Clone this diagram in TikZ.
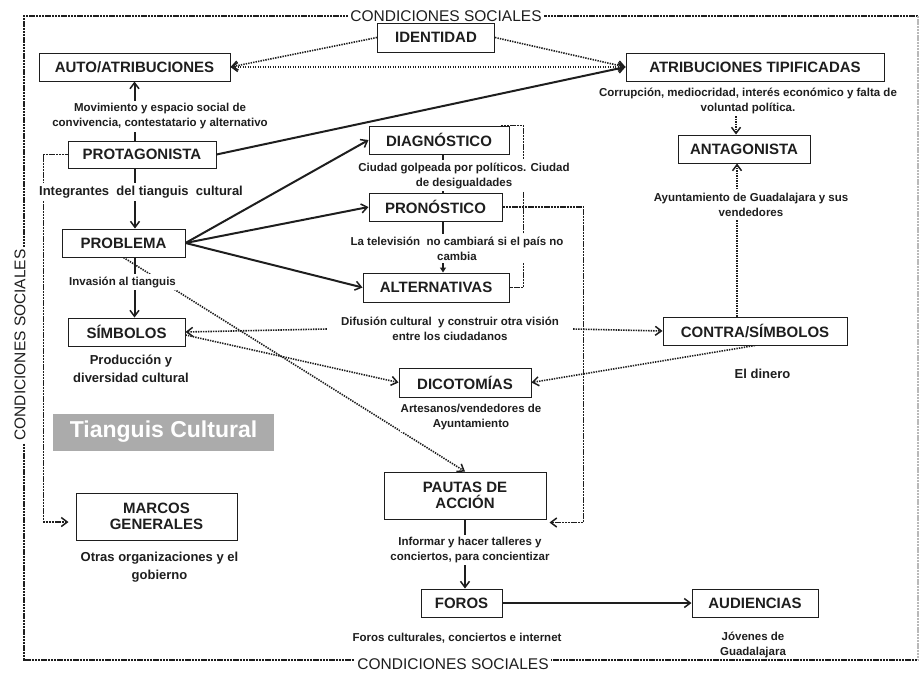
\documentclass[tikz,border=0pt]{standalone}
\usepackage{fontspec}
\setmainfont{Liberation Sans}
\usetikzlibrary{arrows.meta}
\pgfdeclarelayer{bg}
\pgfsetlayers{bg,main}
\newcommand\fTitle{\fontsize{15}{17}\selectfont\bfseries}
\newcommand\fSmall{\fontsize{11.5}{15}\selectfont\bfseries}
\newcommand\fMed{\fontsize{13}{18}\selectfont\bfseries}
\newcommand\fCond{\fontsize{15.5}{17}\selectfont}
\definecolor{ink}{HTML}{1E1E1E}
\definecolor{tgray}{HTML}{ABABAB}
\begin{document}
\begin{tikzpicture}[x=1pt,y=-1pt,
  box/.style={draw=ink, line width=1pt, fill=white, font=\fTitle, text=ink, align=center, inner sep=0pt},
  lab/.style={fill=white, font=\fSmall, text=ink, align=center, inner xsep=1pt, inner ysep=2.5pt},
  labm/.style={lab, font=\fMed},
  tip/.style={-{Straight Barb[length=6pt,width=9pt,line width=1.5pt]}},
  sarrow/.style={ink, line width=2pt, tip},
  sline/.style={ink, line width=1.6pt},
  dots/.style={ink, line width=1.6pt, dash pattern=on 1.4pt off 1.1pt},
  darrow/.style={dots, tip},
  brd/.style={ink, line width=1.1pt, dash pattern=on 2.4pt off 0.8pt},
  cond/.style={fill=white, font=\fCond, text=ink, inner xsep=2pt, inner ysep=0pt}
]
\useasboundingbox (0,0) rectangle (920,675);

% boxes
\node[box, minimum width=117, minimum height=29] (iden) at (436,37.5) {IDENTIDAD};
\node[box, minimum width=191, minimum height=28] (auto) at (134.5,67) {AUTO/ATRIBUCIONES};
\node[box, minimum width=258, minimum height=28] (tipi) at (755,67) {ATRIBUCIONES TIPIFICADAS};
\node[box, minimum width=132, minimum height=28] (ant) at (744,149) {ANTAGONISTA};
\node[box, minimum width=148, minimum height=27] (prot) at (142,154.5) {PROTAGONISTA};
\node[box, minimum width=140, minimum height=28] (diag) at (439,140) {DIAGNÓSTICO};
\node[box, minimum width=133, minimum height=28] (pron) at (435.5,207) {PRONÓSTICO};
\node[box, minimum width=146, minimum height=29] (alt) at (436,287.5) {ALTERNATIVAS};
\node[box, minimum width=123, minimum height=28] (prob) at (123.5,243) {PROBLEMA};
\node[box, minimum width=117, minimum height=28] (simb) at (126.5,332) {SÍMBOLOS};
\node[box, minimum width=132, minimum height=29] (dico) at (465,382.5) {DICOTOMÍAS};
\node[box, minimum width=184, minimum height=28] (contra) at (755,331) {CONTRA/SÍMBOLOS};
\node[box, minimum width=162, minimum height=47] (paut) at (465,495.5) {PAUTAS DE\\[-1pt]ACCIÓN};
\node[box, minimum width=161, minimum height=47] (marcos) at (156.5,516.5) {MARCOS\\[-1pt]GENERALES};
\node[box, minimum width=81, minimum height=28] (foros) at (461.5,603) {FOROS};
\node[box, minimum width=126, minimum height=28] (aud) at (755,603) {AUDIENCIAS};

\node[fill=tgray, minimum width=221, minimum height=37, inner sep=0pt, text=white,
      font=\fontsize{23}{25}\selectfont\bfseries] (tc) at (163.5,432) {Tianguis Cultural};

% labels
\node[lab] (lauto) at (160,116.5) {Movimiento y espacio social de\\convivencia, contestatario y alternativo};
\node[labm] (lprot) at (141,192) {Integrantes\ \ del tianguis\ \ cultural};
\node[lab] (lprob) at (122.5,282) {Invasión al tianguis};
\node[labm] (lsimb) at (131,369) {Producción y\\diversidad cultural};
\node[labm] (lmarcos) at (159.5,567) {Otras organizaciones y el\\gobierno};
\node[lab] (ldiag) at (464,175.5) {Ciudad golpeada por políticos. Ciudad\\de desigualdades};
\node[lab] (lpron) at (457,248.5) {La televisión\ \ no cambiará si el país no\\cambia};
\node[lab, inner xsep=14pt] (lalt) at (450,329) {Difusión cultural\ \ y construir otra visión\\entre los ciudadanos};
\node[lab] (ldico) at (471,417) {Artesanos/vendedores de\\Ayuntamiento};
\node[lab] (lpaut) at (470,550) {Informar y hacer talleres y\\conciertos, para concientizar};
\node[lab] (lforos) at (457,638) {Foros culturales, conciertos e internet};
\node[lab, inner ysep=0.5pt] (laud) at (753,645) {Jóvenes de\\Guadalajara};
\node[lab] (ltipi) at (748,100.5) {Corrupción, mediocridad, interés económico y falta de\\voluntad política.};
\node[lab] (lant) at (751,204.5) {Ayuntamiento de Guadalajara y sus\\vendedores};
\node[labm] (lcontra) at (762.5,374) {El dinero};

% frame texts
\node[cond] (ctop) at (446,16) {CONDICIONES SOCIALES};
\node[cond] (cbot) at (453,664) {CONDICIONES SOCIALES};
\node[cond, rotate=90] (cleft) at (20,345) {CONDICIONES SOCIALES};

\begin{pgfonlayer}{bg}
% frame
\draw[brd] (918,16) -- (24,16) -- (24,660) -- (918,660);
\draw[brd, draw=gray!55] (918,16) -- (918,660);

% solid connectors
\draw[sarrow] (auto.south |- prot.north) -- (auto.south);
\draw[sarrow] ([xshift=-7pt]prot.south) -- ([xshift=-7pt]prot.south |- prob.north);
\draw[sarrow] ([xshift=11pt]prob.south) -- ([xshift=11pt]prob.south |- simb.north);
\draw[sline] ([xshift=4pt]diag.south) -- ([xshift=4pt]diag.south |- pron.north);
\draw[sline, -{Triangle[length=5pt,width=6pt]}] ([xshift=7.5pt]pron.south) -- ([xshift=7.5pt]pron.south |- alt.north);
\draw[sarrow] (paut.south) -- (paut.south |- foros.north);
\draw[sarrow, line width=1.5pt] (foros.east) -- (aud.west);
\draw[sarrow] (prot.east) -- (tipi.west);
\draw[sarrow] (prob.east) -- (diag.west);
\draw[sarrow] (prob.east) -- (pron.west);
\draw[sarrow] (prob.east) -- (alt.west);

% dotted connectors
\draw[darrow] (iden.west) -- (auto.east);
\draw[darrow] (iden.east) -- (tipi.west);
\draw[dots, {Straight Barb[length=6pt,width=9pt,line width=1.5pt]}-{Straight Barb[length=6pt,width=9pt,line width=1.5pt]}] (auto.east) -- (tipi.west);
\draw[darrow] ([xshift=-8pt]ant.north |- ltipi.south) -- ([xshift=-8pt]ant.north);
\draw[darrow] ([xshift=-18pt]contra.north) -- ([xshift=-18pt]contra.north |- ant.south);
\draw[darrow] (lalt.west) -- (simb.east);
\draw[darrow] (lalt.east) -- (contra.west);
\draw[darrow] ([yshift=-3pt]simb.east) -- (dico.west);
\draw[darrow] (contra.south) -- (dico.east);
\draw[darrow] (prob.south) -- (paut.north);

% dashed brackets
\draw[brd] ([xshift=-9pt]diag.north east) -- ++(23,0) |- (alt.east);
\draw[brd, tip] (pron.east) -- ++(81,0) |- ([xshift=3pt,yshift=-3pt]paut.south east);
\draw[brd, tip] (prot.west) -- ++(-24,0) |- ([xshift=-7pt,yshift=-5.5pt]marcos.west);
\end{pgfonlayer}
\end{tikzpicture}
\end{document}
